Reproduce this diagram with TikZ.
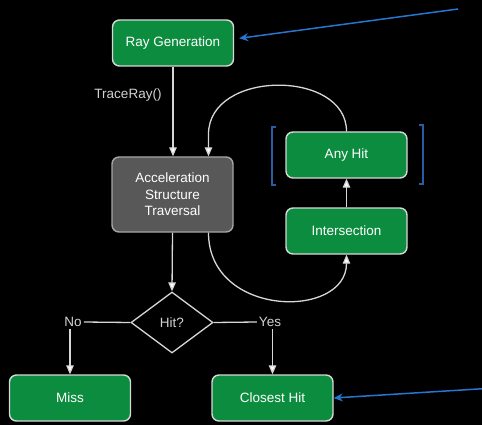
\documentclass[tikz,border=0pt]{standalone}
\usepackage{fontspec}
\setmainfont{Liberation Sans}
\usetikzlibrary{shapes.geometric,arrows.meta}
\definecolor{boxgreen}{RGB}{12,140,62}
\definecolor{boxgray}{RGB}{88,88,88}
\definecolor{edgegray}{RGB}{215,215,215}
\definecolor{labelgray}{RGB}{210,210,210}
\definecolor{callout}{RGB}{38,118,208}
\definecolor{bracketblue}{RGB}{40,92,165}

\begin{document}
\begin{tikzpicture}[x=1pt,y=-1pt,
  stage/.style={draw=edgegray, line width=1.4pt, fill=boxgreen, rounded corners=7pt,
    text=white, font=\fontsize{13.5}{16.5}\selectfont, align=center,
    minimum width=121pt, minimum height=46pt, inner sep=0pt},
  traversal/.style={stage, fill=boxgray, draw=gray!70!white, minimum height=75pt},
  decision/.style={diamond, draw=edgegray, line width=1.3pt, aspect=1.34,
    minimum width=82pt, minimum height=61pt, inner sep=0pt,
    text=labelgray, font=\fontsize{13.5}{16}\selectfont},
  tag/.style={text=labelgray, font=\fontsize{13.5}{16}\selectfont, inner sep=2pt},
  flow/.style={draw=edgegray, line width=1.3pt,
    -{Triangle[width=7.5pt,length=9pt,fill=white]}},
  wire/.style={draw=edgegray, line width=1.3pt},
  pointer/.style={draw=callout, line width=1.5pt,
    -{Stealth[width=8pt,length=9pt]}},
  bracket/.style={draw=bracketblue, line width=1.2pt}
]
% canvas
\fill[black] (0,0) rectangle (482,425);
\useasboundingbox (0,0) rectangle (482,425);

% pipeline stages
\node[stage] (raygen) at (173,43) {Ray Generation};
\node[traversal] (accel) at (172.5,194.5) {Acceleration\\Structure\\Traversal};
\node[stage] (anyhit) at (346.5,155) {Any Hit};
\node[stage] (isect) at (346.5,231) {Intersection};
\node[decision] (hit) at (172,322.5) {Hit?};
\node[tag] (no) at (73,322) {No};
\node[tag] (yes) at (270,322) {Yes};
\node[stage] (miss) at (70,398) {Miss};
\node[stage] (closest) at (272.5,398) {Closest Hit};
\node[tag] (traceray) at (128,95) {TraceRay()};

% main flow
\draw[flow] (raygen.south) -- (raygen.south |- accel.north);
\draw[flow] (accel.south) -- (hit.north);
\draw[flow] (isect.north) -- (anyhit.south);

% traversal loop through intersection / any hit
\draw[flow] ([xshift=36pt]accel.south) .. controls +(0,85) and +(0,65) .. (isect.south);
\draw[flow] (anyhit.north) .. controls +(0,-62) and +(0,-65) .. ([shift={(36,-22)}]accel.north) -- ([xshift=36pt]accel.north);

% decision branches
\draw[wire] (hit.west) -- (no.east);
\draw[wire] (hit.east) -- (yes.west);
\draw[flow] (miss.north |- no.south) -- (miss.north);
\draw[flow] (closest.north |- yes.south) -- (closest.north);

% brackets around the any-hit stage
\draw[bracket] (276,127) -- (272,127) -- (272,185) -- (276,185);
\draw[bracket] (419,125) -- (423,125) -- (423,184) -- (419,184);

% callout pointers
\coordinate (cs1) at (458,9);
\coordinate (cs2) at (486,388.5);
\draw[pointer, shorten >=5pt] (cs1) -- ([yshift=4pt]raygen.east);
\draw[pointer] (cs2) -- (closest.east);
\end{tikzpicture}
\end{document}
